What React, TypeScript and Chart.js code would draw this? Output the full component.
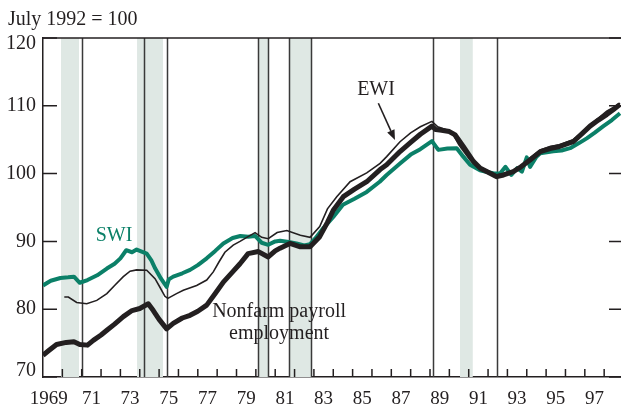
import React, { useEffect, useRef } from 'react';
import { Chart, registerables } from 'chart.js';

Chart.register(...registerables);

const TITLE = 'July 1992 = 100';
const Y_TICKS = [70, 80, 90, 100, 110, 120];
const X_TICK_LABELS = ['1969', '71', '73', '75', '77', '79', '81', '83', '85', '87', '89', '91', '93', '95', '97'];
const X_LABEL_POS = [1969.3, 1971.5, 1973.5, 1975.5, 1977.5, 1979.5, 1981.5, 1983.5, 1985.5, 1987.5, 1989.5, 1991.5, 1993.5, 1995.5, 1997.5];
const X_MIN = 1969;
const X_MAX = 1998.87;

const RECESSIONS = [
  [1969.93, 1970.86],
  [1973.86, 1975.2],
  [1980.13, 1980.65],
  [1981.71, 1982.85],
  [1990.55, 1991.21],
];
const VERTICAL_LINES = [1971.02, 1974.24, 1975.39, 1980.13, 1980.65, 1981.71, 1982.85, 1989.14, 1992.48];

const SWI_YEARS = [
  1969.0, 1969.4, 1969.9, 1970.3, 1970.6, 1970.9, 1971.3, 1971.8, 1972.3, 1972.7,
  1973.0, 1973.3, 1973.6, 1973.84, 1974.1, 1974.36, 1974.6, 1974.8, 1975.1, 1975.39,
  1975.5, 1975.73, 1976.2, 1976.6, 1977.0, 1977.46, 1977.9, 1978.32, 1978.8, 1979.2,
  1979.6, 1979.96, 1980.3, 1980.64, 1981.0, 1981.25, 1981.7, 1982.1, 1982.5, 1982.8,
  1983.06, 1983.5, 1984.0, 1984.5, 1985.1, 1985.73, 1986.4, 1986.76, 1987.45, 1988.0,
  1988.5, 1989.1, 1989.43, 1989.9, 1990.38, 1990.72, 1991.07, 1991.58, 1992.0, 1992.27,
  1992.62, 1992.9, 1993.2, 1993.5, 1993.75, 1994.0, 1994.17, 1994.5, 1994.7, 1995.37,
  1995.8, 1996.24, 1996.7, 1997.1, 1997.5, 1997.96, 1998.4, 1998.82,
];
const SWI_VALUES = [
  83.5, 84.2, 84.6, 84.7, 84.8, 83.9, 84.3, 85.0, 86.0, 86.7,
  87.5, 88.7, 88.4, 88.8, 88.5, 88.2, 87.2, 86.0, 84.5, 83.3,
  84.4, 84.8, 85.3, 85.8, 86.5, 87.5, 88.6, 89.7, 90.5, 90.8,
  90.7, 90.8, 89.8, 89.5, 90.0, 90.1, 89.9, 89.7, 89.4, 89.6,
  90.4, 92.0, 93.6, 95.4, 96.3, 97.3, 98.8, 99.8, 101.5, 102.8,
  103.6, 104.8, 103.5, 103.7, 103.75, 102.5, 101.3, 100.5, 100.2, 100.05,
  100.0, 101.0, 99.8, 100.8, 100.3, 102.4, 101.0, 102.5, 103.0, 103.3,
  103.4, 103.75, 104.5, 105.2, 106.0, 107.0, 107.9, 108.9,
];

const EWI_YEARS = [
  1970.1, 1970.31, 1970.74, 1971.26, 1971.78, 1972.3, 1972.7, 1973.15, 1973.5, 1973.84,
  1974.36, 1974.79, 1975.05, 1975.3, 1975.45, 1975.9, 1976.25, 1976.94, 1977.46, 1977.8,
  1978.1, 1978.4, 1978.83, 1979.18, 1979.6, 1979.96, 1980.3, 1980.64, 1981.1, 1981.6,
  1982.3, 1982.8, 1983.3, 1983.7, 1984.18, 1984.87, 1985.73, 1986.42, 1986.76, 1987.45,
  1988.0, 1988.5, 1989.1, 1989.4, 1989.9, 1990.2, 1990.5, 1991.07, 1991.5, 1991.93,
  1992.4, 1992.8, 1993.3, 1993.65, 1994.2, 1994.7, 1995.2, 1995.7, 1996.4, 1996.9,
  1997.27, 1997.7, 1998.13, 1998.5, 1998.82,
];
const EWI_VALUES = [
  81.8, 81.8, 81.0, 80.8, 81.3, 82.3, 83.5, 84.8, 85.6, 85.8,
  85.75, 84.5, 83.2, 81.9, 81.6, 82.3, 82.8, 83.5, 84.3, 85.5,
  87.0, 88.4, 89.45, 90.0, 90.7, 91.3, 90.6, 90.4, 91.3, 91.6,
  90.9, 90.6, 92.2, 94.8, 96.6, 98.8, 100.1, 101.5, 102.5, 104.7,
  106.0, 106.9, 107.7, 106.9, 106.4, 105.7, 104.2, 102.0, 101.0, 100.5,
  99.8, 100.0, 100.4, 101.0, 102.4, 103.5, 104.0, 104.25, 105.0, 106.2,
  107.2, 108.2, 109.2, 109.8, 110.4,
];

const NONFARM_YEARS = [
  1969.0, 1969.3, 1969.7, 1970.2, 1970.6, 1970.9, 1971.3, 1971.6, 1972.0, 1972.3,
  1972.7, 1973.15, 1973.6, 1974.0, 1974.44, 1974.7, 1975.0, 1975.39, 1975.73, 1976.2,
  1976.6, 1977.0, 1977.46, 1977.9, 1978.32, 1978.8, 1979.18, 1979.6, 1980.13, 1980.64,
  1981.0, 1981.25, 1981.76, 1982.3, 1982.8, 1983.3, 1983.7, 1984.0, 1984.52, 1985.1,
  1985.73, 1986.42, 1986.76, 1987.45, 1988.0, 1988.5, 1989.1, 1989.3, 1989.6, 1990.0,
  1990.3, 1990.72, 1991.24, 1991.6, 1991.93, 1992.45, 1992.8, 1993.3, 1993.7, 1994.17,
  1994.7, 1995.2, 1995.7, 1996.4, 1996.9, 1997.27, 1997.7, 1998.13, 1998.5, 1998.82,
];
const NONFARM_VALUES = [
  73.2, 73.9, 74.8, 75.1, 75.2, 74.8, 74.7, 75.4, 76.2, 76.9,
  77.8, 78.9, 79.8, 80.1, 80.8, 79.8, 78.5, 77.1, 77.9, 78.7,
  79.1, 79.7, 80.6, 82.3, 84.0, 85.5, 86.7, 88.2, 88.5, 87.7,
  88.6, 89.0, 89.7, 89.2, 89.2, 90.7, 92.8, 94.6, 96.6, 97.7,
  98.8, 100.6, 101.3, 103.25, 104.6, 105.8, 107.0, 106.5, 106.4, 106.2,
  105.7, 104.0, 101.8, 100.8, 100.3, 99.55, 99.8, 100.3, 101.0, 102.0,
  103.25, 103.7, 104.0, 104.7, 106.0, 107.0, 107.9, 108.7, 109.5, 110.2,
];

const GREEN = '#0b8068';
const BLACK = '#231f20';
const BAND = '#dfe8e4';
const FONT = "'Liberation Serif', 'Times New Roman', serif";

const toPoints = (xs: number[], ys: number[]) => xs.map((x, i) => ({ x, y: ys[i] }));

const decorPlugin = {
  id: 'decor',
  beforeDatasetsDraw(chart: any) {
    const { ctx, chartArea, scales } = chart;
    const xs = scales.x;
    ctx.save();
    ctx.fillStyle = BAND;
    RECESSIONS.forEach(([a, b]) => {
      const x1 = xs.getPixelForValue(a);
      const x2 = xs.getPixelForValue(b);
      ctx.fillRect(x1, chartArea.top, x2 - x1, chartArea.bottom - chartArea.top);
    });
    ctx.strokeStyle = '#3a3a3a';
    ctx.lineWidth = 1.5;
    VERTICAL_LINES.forEach((v) => {
      const x = Math.round(xs.getPixelForValue(v)) + 0.5;
      ctx.beginPath();
      ctx.moveTo(x, chartArea.top);
      ctx.lineTo(x, chartArea.bottom);
      ctx.stroke();
    });
    ctx.restore();
  },
  afterDraw(chart: any) {
    const { ctx, chartArea, scales } = chart;
    const xs = scales.x;
    const ys = scales.y;
    ctx.save();
    ctx.strokeStyle = BLACK;
    ctx.lineWidth = 1.5;
    ctx.beginPath();
    ctx.moveTo(chartArea.left, chartArea.top);
    ctx.lineTo(chartArea.right, chartArea.top);
    ctx.stroke();
    Y_TICKS.forEach((v) => {
      const y = ys.getPixelForValue(v);
      ctx.beginPath();
      ctx.moveTo(chartArea.left, y);
      ctx.lineTo(chartArea.left + 14, y);
      ctx.moveTo(chartArea.right - 12, y);
      ctx.lineTo(chartArea.right, y);
      ctx.stroke();
    });
    for (let yr = 1970; yr <= 1998; yr++) {
      const x = xs.getPixelForValue(yr);
      ctx.beginPath();
      ctx.moveTo(x, chartArea.bottom);
      ctx.lineTo(x, chartArea.bottom - 8);
      ctx.stroke();
    }
    ctx.font = `20px ${FONT}`;
    ctx.textBaseline = 'middle';
    ctx.fillStyle = BLACK;
    ctx.textAlign = 'left';
    ctx.fillText(TITLE, 8, 20);
    ctx.textAlign = 'center';
    ctx.fillStyle = GREEN;
    ctx.fillText('SWI', xs.getPixelForValue(1972.67), ys.getPixelForValue(90.8));
    ctx.fillStyle = BLACK;
    ctx.fillText('EWI', xs.getPixelForValue(1986.21), ys.getPixelForValue(112.3));
    ctx.fillText('Nonfarm payroll', xs.getPixelForValue(1981.2), ys.getPixelForValue(79.6));
    ctx.fillText('employment', xs.getPixelForValue(1981.2), ys.getPixelForValue(76.4));
    const ax1 = xs.getPixelForValue(1986.33);
    const ay1 = ys.getPixelForValue(110.37);
    const ax2 = xs.getPixelForValue(1987.19);
    const ay2 = ys.getPixelForValue(104.95);
    const ang = Math.atan2(ay2 - ay1, ax2 - ax1);
    const hl = 10;
    const hw = 4;
    const bx = ax2 - hl * Math.cos(ang);
    const by = ay2 - hl * Math.sin(ang);
    ctx.lineWidth = 1.6;
    ctx.beginPath();
    ctx.moveTo(ax1, ay1);
    ctx.lineTo(bx, by);
    ctx.stroke();
    ctx.beginPath();
    ctx.moveTo(ax2, ay2);
    ctx.lineTo(bx + hw * Math.sin(ang), by - hw * Math.cos(ang));
    ctx.lineTo(bx - hw * Math.sin(ang), by + hw * Math.cos(ang));
    ctx.closePath();
    ctx.fill();
    ctx.restore();
  },
};

export default function App() {
  const ref = useRef<HTMLCanvasElement | null>(null);
  useEffect(() => {
    if (!ref.current) return;
    const chart = new Chart(ref.current, {
      type: 'line',
      data: {
        datasets: [
          {
            label: 'EWI',
            data: toPoints(EWI_YEARS, EWI_VALUES),
            borderColor: BLACK,
            borderWidth: 1.6,
            pointRadius: 0,
            tension: 0,
            order: 0,
          },
          {
            label: 'Nonfarm payroll employment',
            data: toPoints(NONFARM_YEARS, NONFARM_VALUES),
            borderColor: BLACK,
            borderWidth: 5,
            pointRadius: 0,
            tension: 0,
            borderJoinStyle: 'round',
            order: 1,
          },
          {
            label: 'SWI',
            data: toPoints(SWI_YEARS, SWI_VALUES),
            borderColor: GREEN,
            borderWidth: 4,
            pointRadius: 0,
            tension: 0,
            borderJoinStyle: 'round',
            order: 2,
          },
        ],
      },
      options: {
        animation: false,
        responsive: false,
        layout: { padding: { top: 38, left: 0, right: 0, bottom: 0 } },
        plugins: { legend: { display: false }, tooltip: { enabled: false }, title: { display: false } },
        scales: {
          x: {
            type: 'linear',
            min: X_MIN,
            max: X_MAX,
            afterBuildTicks: (scale: any) => {
              scale.ticks = X_LABEL_POS.map((v) => ({ value: v }));
            },
            afterFit: (scale: any) => {
              scale.height = 28;
            },
            grid: { display: false, drawTicks: false },
            border: { display: true, color: BLACK, width: 1.5 },
            ticks: {
              autoSkip: false,
              maxRotation: 0,
              padding: 11,
              color: BLACK,
              font: { family: FONT, size: 19 },
              callback: (_v: any, i: number) => X_TICK_LABELS[i],
            },
          },
          y: {
            type: 'linear',
            min: 70,
            max: 120,
            afterBuildTicks: (scale: any) => {
              scale.ticks = Y_TICKS.map((v) => ({ value: v }));
            },
            afterFit: (scale: any) => {
              scale.width = 43;
            },
            grid: { display: false, drawTicks: false },
            border: { display: true, color: BLACK, width: 1.5 },
            ticks: {
              padding: 7,
              color: BLACK,
              font: { family: FONT, size: 20, lineHeight: '12px' },
              callback: (v: any) => {
                if (v === 120) return ['', '120'];
                if (v === 70) return ['70', ''];
                return String(v);
              },
            },
          },
        },
      },
      plugins: [decorPlugin],
    } as any);
    return () => chart.destroy();
  }, []);
  return (
    <div style={{ position: 'fixed', left: 0, top: 0, width: 621, height: 405, background: '#fff' }}>
      <canvas ref={ref} width={621} height={405} style={{ display: 'block' }} />
    </div>
  );
}
